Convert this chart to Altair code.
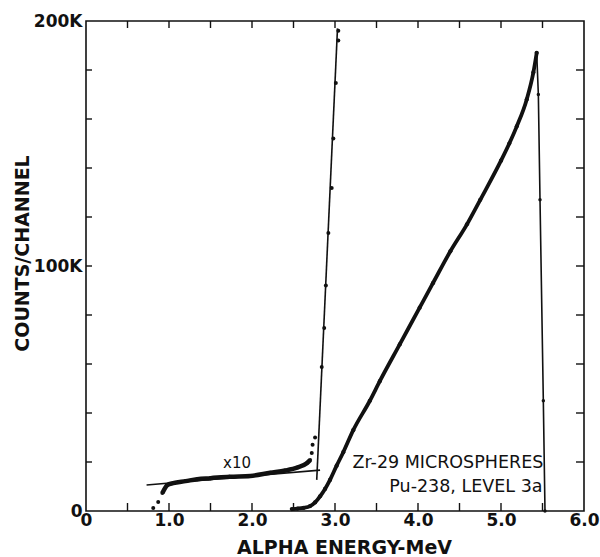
import altair as alt
import pandas as pd

# Main spectrum (counts/channel in thousands vs alpha energy in MeV)
main_e = [2.48, 2.55, 2.62, 2.70, 2.76, 2.82, 2.88, 2.94, 3.02, 3.10, 3.22, 3.42,
          3.54, 3.78, 4.02, 4.18, 4.39, 4.59, 4.75, 5.00, 5.10, 5.19, 5.31, 5.39, 5.43]
main_k = [0.8, 1.0, 1.3, 2.0, 3.5, 6.0, 9.0, 12.7, 18.5, 24.0, 33.0, 45.0,
          53.0, 68.0, 83.0, 93.0, 106.0, 117.0, 127.0, 143.0, 150.0, 157.0, 168.0, 179.0, 187.0]

# High-energy cutoff of the main spectrum
drop_e = [5.43, 5.45, 5.47, 5.51, 5.53]
drop_k = [187.0, 170.0, 127.0, 45.0, 0.0]

# Low-energy tail, expanded x10
x10_e = [0.81, 0.87, 0.92, 0.98, 1.05, 1.20, 1.34, 1.50, 1.73, 1.98, 2.22, 2.40,
         2.55, 2.66, 2.70, 2.72, 2.73, 2.76, 2.84, 2.87, 2.89, 2.92, 2.96, 2.98,
         3.01, 3.04, 3.04]
x10_k = [1.2, 3.7, 7.3, 10.6, 11.4, 12.2, 13.0, 13.4, 14.0, 14.3, 15.6, 16.5,
         17.8, 19.5, 20.8, 23.7, 27.0, 30.0, 58.8, 74.7, 92.0, 113.5, 131.8, 152.0,
         174.7, 192.0, 196.0]

# Straight-line fits drawn through the x10 tail
flat_fit_e = [0.73, 2.82]
flat_fit_k = [10.6, 16.7]
steep_fit_e = [2.78, 3.03]
steep_fit_k = [12.7, 197.0]

# Axis tick values
x_labels = [0, 1, 2, 3, 4, 5, 6]
y_labels = [0, 100, 200]
x_minor = [0.5 * i for i in range(1, 12)]
y_minor = [20 * i for i in range(1, 10)]

W, H = 498, 490
FONT = "DejaVu Sans"

xs = alt.Scale(domain=[0, 6], nice=False, zero=False)
ys = alt.Scale(domain=[0, 200], nice=False, zero=False)

main_df = pd.DataFrame({"e": main_e, "k": main_k})
drop_df = pd.DataFrame({"e": drop_e, "k": drop_k})
x10_df = pd.DataFrame({"e": x10_e, "k": x10_k})
x10_band = x10_df[(x10_df.e >= 0.92) & (x10_df.e <= 2.70)]
flat_df = pd.DataFrame({"e": flat_fit_e, "k": flat_fit_k})
steep_df = pd.DataFrame({"e": steep_fit_e, "k": steep_fit_k})

X = alt.X(
    "e:Q", scale=xs,
    axis=alt.Axis(
        values=x_labels, title="ALPHA ENERGY-MeV", grid=False, ticks=False, domain=False,
        labelExpr="datum.value == 0 ? '0' : format(datum.value, '.1f')",
        labelFont=FONT, labelFontSize=17, labelFontWeight="bold", labelColor="#111",
        labelPadding=1, labelFlush=False, labelOverlap=False,
        titleFont=FONT, titleFontSize=19, titleFontWeight="bold", titleColor="#111",
        titleX=258, titleY=42, titleBaseline="alphabetic", titleAlign="center",
    ),
)
Y = alt.Y(
    "k:Q", scale=ys,
    axis=alt.Axis(
        values=y_labels, title="COUNTS/CHANNEL", grid=False, ticks=False, domain=False,
        labelExpr="datum.value == 0 ? '0' : datum.value + 'K'",
        labelFont=FONT, labelFontSize=17, labelFontWeight="bold", labelColor="#111",
        labelPadding=4, labelBaseline="middle", labelFlush=False, labelOverlap=False,
        titleFont=FONT, titleFontSize=19, titleFontWeight="bold", titleColor="#111",
        titleAngle=270, titleX=-64, titleY=232, titleAlign="center", titleBaseline="middle",
    ),
)

main_line = alt.Chart(main_df).mark_line(color="#111", strokeWidth=3.8, interpolate="monotone").encode(x=X, y=Y)
main_pts = alt.Chart(main_df).mark_circle(color="#111", size=18, opacity=1).encode(x="e:Q", y="k:Q")
drop_line = alt.Chart(drop_df).mark_line(color="#111", strokeWidth=1.6).encode(x="e:Q", y="k:Q")
drop_pts = alt.Chart(drop_df).mark_circle(color="#111", size=12, opacity=1).encode(x="e:Q", y="k:Q")

band = alt.Chart(x10_band).mark_line(color="#111", strokeWidth=4.5, interpolate="monotone").encode(x="e:Q", y="k:Q")
x10_pts = alt.Chart(x10_df).mark_circle(color="#111", size=16, opacity=1).encode(x="e:Q", y="k:Q")
flat = alt.Chart(flat_df).mark_line(color="#111", strokeWidth=1.6).encode(x="e:Q", y="k:Q")
steep = alt.Chart(steep_df).mark_line(color="#111", strokeWidth=1.6).encode(x="e:Q", y="k:Q")

# Inward-pointing ticks on all four sides of the frame
xm = pd.DataFrame({"e": x_minor})
ym = pd.DataFrame({"k": y_minor})
tick_style = dict(color="#111", strokeWidth=1.4)
t_bottom = alt.Chart(xm).mark_rule(**tick_style).encode(x="e:Q", y=alt.value(H), y2=alt.value(H - 8))
t_top = alt.Chart(xm).mark_rule(**tick_style).encode(x="e:Q", y=alt.value(0), y2=alt.value(7))
t_left = alt.Chart(ym).mark_rule(**tick_style).encode(y="k:Q", x=alt.value(0), x2=alt.value(6))
t_right = alt.Chart(ym).mark_rule(**tick_style).encode(y="k:Q", x=alt.value(W), x2=alt.value(W - 8))

# Annotations
lbl = dict(font=FONT, color="#111")
t_x10 = alt.Chart(pd.DataFrame({"t": ["x10"]})).mark_text(
    fontSize=15, align="center", baseline="alphabetic", **lbl
).encode(x=alt.datum(1.82), y=alt.datum(17.5), text="t:N")
t_zr = alt.Chart(pd.DataFrame({"t": ["Zr-29 MICROSPHERES"]})).mark_text(
    fontSize=17.5, align="right", baseline="alphabetic", **lbl
).encode(x=alt.datum(5.51), y=alt.datum(17.6), text="t:N")
t_pu = alt.Chart(pd.DataFrame({"t": ["Pu-238, LEVEL 3a"]})).mark_text(
    fontSize=17.5, align="right", baseline="alphabetic", **lbl
).encode(x=alt.datum(5.50), y=alt.datum(7.6), text="t:N")

chart = (
    alt.layer(
        main_line, main_pts, drop_line, drop_pts, band, x10_pts, flat, steep,
        t_bottom, t_top, t_left, t_right, t_x10, t_zr, t_pu,
    )
    .properties(
        width=W, height=H, background="white",
        autosize=alt.AutoSizeParams(type="none"),
        padding={"left": 86, "top": 21, "right": 16, "bottom": 46},
    )
    .configure_view(stroke="#111", strokeWidth=1.6)
)

chart.save("out.html", embed_options={"renderer": "svg", "actions": False})
